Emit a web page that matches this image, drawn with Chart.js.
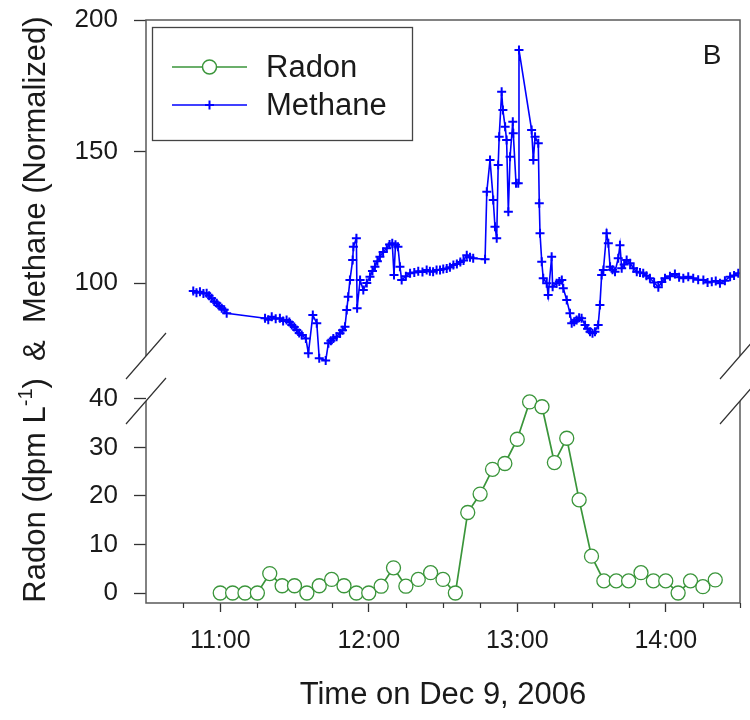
<!DOCTYPE html>
<html>
<head>
<meta charset="utf-8">
<title>Radon and methane, Dec 9 2006</title>
<script src="https://cdn.jsdelivr.net/npm/chart.js@4.4.1/dist/chart.umd.min.js"></script>
<style>
    html, body { margin: 0; padding: 0; background: #fff; }
    #wrap { width: 750px; height: 720px; }
</style>
</head>
<body>
<div id="wrap"><canvas id="radonChart" width="750" height="720"></canvas></div>
<script>
// times are minutes after midnight
const radonTimes = [660, 665, 670, 675, 680, 685, 690, 695, 700, 705, 710, 715,
    720, 725, 730, 735, 740, 745, 750, 755, 760, 765, 770, 775,
    780, 785, 790, 795, 800, 805, 810, 815, 820, 825, 830, 835,
    840, 845, 850, 855, 860];
const radonValues = [0, 0, 0, 0, 4, 1.5, 1.5, 0, 1.5, 2.8, 1.5, 0,
    0, 1.4, 5.2, 1.4, 2.8, 4.2, 2.8, 0, 16.6, 20.4, 25.5, 26.7,
    31.7, 39.4, 38.4, 26.9, 31.9, 19.2, 7.6, 2.5, 2.5, 2.5, 4.2, 2.5,
    2.5, 0, 2.5, 1.3, 2.7];

const methaneTimes = [649.1, 650.4, 651.8, 653.2, 654.5, 655.5, 656.5, 657.6, 658.6, 659.6, 660.6, 661.6, 662.6,
    678.1, 679.4, 680.8, 682.4, 684.1, 685.4, 686.8, 687.9, 688.9, 689.9, 690.9, 691.9, 692.9, 694.6, 695.6,
    697.4, 699.0, 700.0, 702.6, 703.7, 704.7, 705.7, 707.0, 708.4, 709.4, 710.4, 711.1, 711.7, 712.4,
    713.5, 713.8, 715.0, 715.3, 716.5, 717.8, 719.2, 720.5, 721.5, 722.5, 723.5, 724.5, 725.8, 727.3,
    728.4, 729.5, 730.2, 730.8, 731.8, 732.6, 733.3, 735.0, 736.7, 738.4, 740.0, 741.7, 743.4, 744.7,
    746.0, 747.4, 748.8, 750.1, 751.5, 752.8, 754.2, 755.6, 757.0, 758.3, 759.6, 760.9, 762.2, 767.0,
    767.7, 769.0, 770.3, 771.0, 771.7, 772.3, 772.7, 773.7, 774.2, 775.1, 775.7, 776.4, 777.1, 778.2,
    778.4, 779.5, 780.4, 780.7, 785.8, 786.5, 787.2, 788.5, 788.9, 789.2, 789.9, 790.5, 791.9, 792.5,
    793.9, 794.3, 795.9, 797.0, 798.0, 798.6, 800.0, 801.3, 802.0, 803.0, 804.0, 805.0, 806.0, 807.4,
    808.4, 809.4, 810.4, 811.4, 812.7, 813.4, 814.1, 814.8, 816.1, 816.8, 817.5, 818.5, 819.5, 820.8,
    821.5, 822.2, 823.2, 824.2, 825.6, 827.0, 828.3, 829.6, 830.9, 832.2, 833.6, 835.3, 837.0, 838.4,
    839.7, 841.7, 843.7, 845.4, 847.1, 849.1, 851.1, 853.1, 855.2, 856.9, 858.6, 860.2, 861.9, 863.9,
    866.0, 867.6, 869.3];
const methaneValues = [97.0, 96.3, 96.7, 96.0, 96.1, 95.2, 94.2, 93.0, 92.3, 91.3, 90.4, 89.8, 88.5,
    86.6, 86.0, 87.2, 86.4, 86.6, 85.6, 85.9, 85.2, 84.0, 83.3, 82.1, 81.0, 80.2, 78.9, 73.3,
    87.8, 84.7, 71.4, 70.5, 77.1, 78.0, 78.9, 79.6, 80.9, 82.0, 83.4, 89.7, 94.8, 101.1,
    108.7, 113.8, 117.0, 90.4, 101.1, 97.3, 100.0, 102.4, 104.6, 106.2, 108.3, 110.0, 111.8, 113.2,
    114.6, 115.1, 103.0, 114.5, 113.8, 106.2, 101.1, 102.6, 103.7, 104.0, 104.5, 104.2, 104.9, 104.5,
    104.3, 104.9, 104.9, 105.3, 105.5, 106.0, 106.8, 107.2, 108.0, 108.6, 110.6, 109.8, 109.4, 109.0,
    134.7, 146.8, 131.6, 121.4, 117.0, 144.9, 155.6, 172.7, 165.8, 159.4, 154.4, 127.1, 148.0, 161.3,
    156.9, 137.9, 137.9, 188.6, 158.2, 146.8, 155.6, 153.1, 130.3, 118.9, 108.1, 101.8, 99.9, 95.4,
    110.0, 98.6, 99.9, 100.6, 101.1, 98.0, 93.5, 88.5, 84.7, 85.3, 85.9, 86.8, 86.6, 84.0,
    82.6, 81.5, 80.9, 81.5, 84.0, 91.6, 103.0, 104.9, 118.9, 115.1, 106.2, 105.0, 104.3, 109.4,
    114.4, 105.6, 107.0, 108.7, 107.5, 105.6, 104.3, 104.0, 103.7, 102.8, 101.8, 100.2, 98.4, 100.4,
    101.8, 102.6, 103.4, 102.2, 101.8, 102.4, 101.8, 101.2, 101.1, 100.2, 100.5, 100.8, 99.9, 100.9,
    102.4, 102.9, 103.7];

const hourTicks = [660, 720, 780, 840];
const quarterTicks = [645, 675, 690, 705, 735, 750, 765, 795, 810, 825, 855, 870];
const methaneTicks = [100, 150, 200];
const radonTicks = [0, 10, 20, 30, 40];

const FONT = '"Liberation Sans", Arial, Helvetica, sans-serif';
const GREEN = '#3a953a';
const BLUE = '#0000ff';
const FRAME = '#5a5a5a';
const TEXT = '#1a1a1a';

function clock(m) {
    const h = Math.floor(m / 60);
    const mm = Math.round(m % 60);
    return h + ':' + (mm < 10 ? '0' : '') + mm;
}

// keep tick label overhang from pushing the plot area around
function fixAxis(width) {
    return (s) => {
        s.width = width;
        s.paddingTop = 0;
        s.paddingBottom = 0;
    };
}

// frame with axis breaks, legend, panel letter and the shared y title
const framePlugin = {
    id: 'framePlugin',
    afterDraw(chart) {
        const ctx = chart.ctx;
        const a = chart.chartArea;
        const yM = chart.scales.yMethane;
        const yR = chart.scales.yRadon;
        const x = chart.scales.x;
        const breakTop = yM.bottom - 23;
        const breakBot = yR.top + 22;

        ctx.save();
        ctx.strokeStyle = FRAME;
        ctx.lineWidth = 1.5;
        ctx.beginPath();
        ctx.moveTo(a.left, breakTop);
        ctx.lineTo(a.left, a.top);
        ctx.lineTo(a.right, a.top);
        ctx.lineTo(a.right, breakTop);
        ctx.moveTo(a.left, breakBot);
        ctx.lineTo(a.left, a.bottom);
        ctx.lineTo(a.right, a.bottom);
        ctx.lineTo(a.right, breakBot);
        ctx.stroke();

        // break marks
        ctx.lineWidth = 1.2;
        ctx.strokeStyle = '#333';
        ctx.beginPath();
        [a.left, a.right].forEach(cx => {
            [breakTop, breakBot].forEach(cy => {
                ctx.moveTo(cx - 20, cy + 23);
                ctx.lineTo(cx + 20, cy - 23);
            });
        });
        ctx.stroke();

        // minor time ticks
        ctx.beginPath();
        quarterTicks.forEach(t => {
            const px = Math.round(x.getPixelForValue(t)) + 0.5;
            ctx.moveTo(px, a.bottom);
            ctx.lineTo(px, a.bottom + 5);
        });
        ctx.stroke();

        // legend
        const ds = chart.data.datasets;
        ctx.strokeStyle = '#444';
        ctx.lineWidth = 1.3;
        ctx.strokeRect(152.5, 27.5, 260, 113);
        const rows = [67, 105];
        ctx.font = '31px ' + FONT;
        ctx.textBaseline = 'middle';
        ctx.textAlign = 'left';
        rows.forEach((ry, i) => {
            ctx.strokeStyle = ds[i].borderColor;
            ctx.lineWidth = 1.5;
            ctx.beginPath();
            ctx.moveTo(172, ry);
            ctx.lineTo(247, ry);
            ctx.stroke();
            ctx.beginPath();
            if (i === 0) {
                ctx.fillStyle = '#fff';
                ctx.arc(209.5, ry, 7, 0, Math.PI * 2);
                ctx.fill();
                ctx.stroke();
            } else {
                ctx.lineWidth = 2;
                ctx.moveTo(205, ry);
                ctx.lineTo(214, ry);
                ctx.moveTo(209.5, ry - 4.5);
                ctx.lineTo(209.5, ry + 4.5);
                ctx.stroke();
            }
            ctx.fillStyle = TEXT;
            ctx.fillText(ds[i].label, 266, ry + 1);
        });

        // panel letter
        ctx.font = '28px ' + FONT;
        ctx.textAlign = 'center';
        ctx.fillText('B', 712, 56);

        // y title, drawn bottom to top with a superscript
        const main = '31px ' + FONT;
        const sup = '20px ' + FONT;
        const p1 = 'Radon (dpm L';
        const p2 = '-1';
        const p3 = ')  &  Methane (Normalized)';
        ctx.font = main;
        const w1 = ctx.measureText(p1).width;
        const w3 = ctx.measureText(p3).width;
        ctx.font = sup;
        const w2 = ctx.measureText(p2).width;
        const total = w1 + w2 + w3;
        ctx.translate(45, (a.top + a.bottom) / 2 - 2);
        ctx.rotate(-Math.PI / 2);
        ctx.textAlign = 'left';
        ctx.textBaseline = 'alphabetic';
        let sx = -total / 2;
        ctx.font = main;
        ctx.fillText(p1, sx, 0);
        sx += w1;
        ctx.font = sup;
        ctx.fillText(p2, sx, -13);
        sx += w2;
        ctx.font = main;
        ctx.fillText(p3, sx, 0);
        ctx.restore();
    }
};

const ctx = document.getElementById('radonChart').getContext('2d');
const chart = new Chart(ctx, {
    type: 'line',
    data: {
        datasets: [{
            label: 'Radon',
            data: radonTimes.map((t, i) => ({ x: t, y: radonValues[i] })),
            yAxisID: 'yRadon',
            borderColor: GREEN,
            backgroundColor: '#fff',
            borderWidth: 1.7,
            pointStyle: 'circle',
            pointRadius: 7,
            pointBorderWidth: 1.3,
            pointBackgroundColor: '#fff',
            tension: 0
        }, {
            label: 'Methane',
            data: methaneTimes.map((t, i) => ({ x: t, y: methaneValues[i] })),
            yAxisID: 'yMethane',
            borderColor: BLUE,
            backgroundColor: BLUE,
            borderWidth: 1.6,
            pointStyle: 'cross',
            pointRadius: 4.5,
            pointBorderWidth: 2,
            tension: 0
        }]
    },
    options: {
        responsive: false,
        animation: false,
        layout: {
            padding: { left: 0, right: 10, top: 20, bottom: 0 }
        },
        plugins: {
            legend: { display: false },
            tooltip: { enabled: false }
        },
        scales: {
            x: {
                type: 'linear',
                min: 630,
                max: 870,
                afterBuildTicks: (s) => { s.ticks = hourTicks.map(v => ({ value: v })); },
                afterFit: (s) => { s.height = 117; s.paddingLeft = 0; s.paddingRight = 0; },
                ticks: {
                    callback: (v) => clock(v),
                    font: { family: FONT, size: 25 },
                    color: TEXT,
                    padding: 14,
                    maxRotation: 0,
                    autoSkip: false
                },
                grid: {
                    drawOnChartArea: false,
                    drawTicks: true,
                    tickLength: 9,
                    tickColor: '#333',
                    tickWidth: 1.3
                },
                border: { display: false },
                title: {
                    display: true,
                    text: 'Time on Dec 9, 2006',
                    font: { family: FONT, size: 31 },
                    color: TEXT,
                    padding: { top: 0, bottom: 6 }
                }
            },
            yRadon: {
                type: 'linear',
                position: 'left',
                stack: 'left',
                stackWeight: 224,
                min: -2.06,
                max: 44.12,
                afterBuildTicks: (s) => { s.ticks = radonTicks.map(v => ({ value: v })); },
                afterFit: fixAxis(146),
                ticks: {
                    font: { family: FONT, size: 26 },
                    color: TEXT,
                    padding: 16,
                    autoSkip: false
                },
                grid: {
                    drawOnChartArea: false,
                    tickLength: 12,
                    tickColor: '#333',
                    tickWidth: 1.3
                },
                border: { display: false }
            },
            yMethane: {
                type: 'linear',
                position: 'left',
                stack: 'left',
                stackWeight: 359,
                min: 63.5,
                max: 200,
                afterBuildTicks: (s) => { s.ticks = methaneTicks.map(v => ({ value: v })); },
                afterFit: fixAxis(146),
                ticks: {
                    font: { family: FONT, size: 26 },
                    color: TEXT,
                    padding: 16,
                    autoSkip: false
                },
                grid: {
                    drawOnChartArea: false,
                    tickLength: 12,
                    tickColor: '#333',
                    tickWidth: 1.3
                },
                border: { display: false }
            }
        }
    },
    plugins: [framePlugin]
});
</script>
</body>
</html>
